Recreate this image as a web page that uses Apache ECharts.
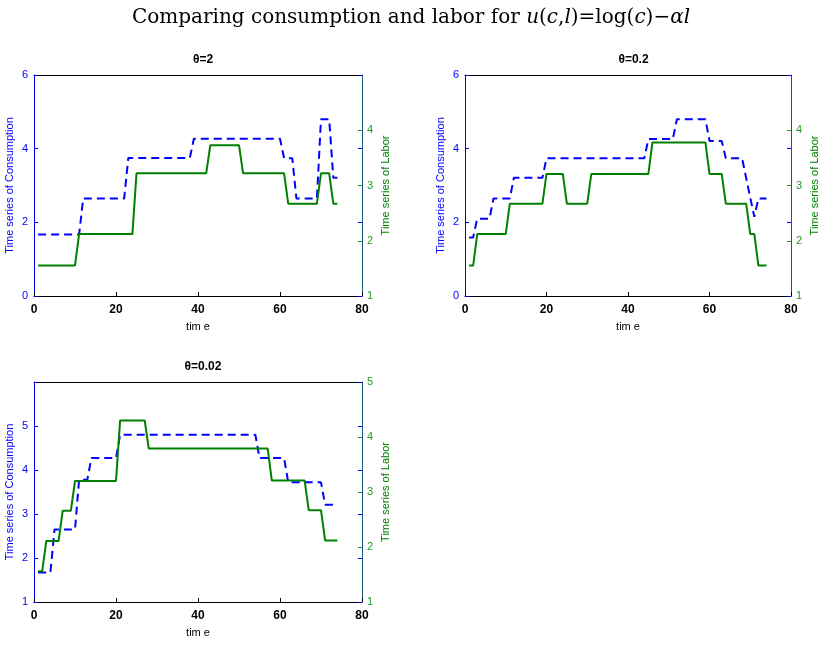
<!DOCTYPE html>
<html>
<head>
<meta charset="utf-8">
<script src="https://cdn.jsdelivr.net/npm/echarts@6/dist/echarts.min.js"></script>
<style>html,body{margin:0;padding:0;background:#fff}#c{width:821px;height:645px}</style>
</head>
<body>
<div id="c"></div>
<script>
// time index 1..74
var time = Array.from({length: 74}, function (_, i) { return i + 1; });
var xTicks = [0, 20, 40, 60, 80];
var subTitles = ['\u03b8=2', '\u03b8=0.2', '\u03b8=0.02'];

// theta = 2
var cons1 = [
1.67,1.67,1.67,1.67,1.67,1.67,1.67,1.67,1.67,1.67,1.67,
2.65,2.65,2.65,2.65,2.65,2.65,2.65,2.65,2.65,2.65,2.65,
3.75,3.75,3.75,3.75,3.75,3.75,3.75,3.75,3.75,3.75,3.75,3.75,3.75,3.75,3.75,3.75,
4.27,4.27,4.27,4.27,4.27,4.27,4.27,4.27,4.27,4.27,4.27,4.27,4.27,4.27,4.27,4.27,4.27,4.27,4.27,4.27,4.27,4.27,
3.74,3.74,3.74,
2.65,2.65,2.65,2.65,2.65,2.65,
4.80,4.80,4.80,
3.21,3.21];
var labor1 = [
1.55,1.55,1.55,1.55,1.55,1.55,1.55,1.55,1.55,1.55,
2.12,2.12,2.12,2.12,2.12,2.12,2.12,2.12,2.12,2.12,2.12,2.12,2.12,2.12,
3.22,3.22,3.22,3.22,3.22,3.22,3.22,3.22,3.22,3.22,3.22,3.22,3.22,3.22,3.22,3.22,3.22,3.22,
3.73,3.73,3.73,3.73,3.73,3.73,3.73,3.73,
3.22,3.22,3.22,3.22,3.22,3.22,3.22,3.22,3.22,3.22,3.22,
2.67,2.67,2.67,2.67,2.67,2.67,2.67,2.67,
3.22,3.22,3.22,
2.67,2.67];

// theta = 0.2
var cons2 = [
1.59,1.59,
2.10,2.10,2.10,2.10,
2.65,2.65,2.65,2.65,2.65,
3.21,3.21,3.21,3.21,3.21,3.21,3.21,3.21,
3.74,3.74,3.74,3.74,3.74,3.74,3.74,3.74,3.74,3.74,3.74,3.74,3.74,3.74,3.74,3.74,3.74,3.74,3.74,3.74,3.74,3.74,3.74,3.74,3.74,
4.26,4.26,4.26,4.26,4.26,4.26,4.26,
4.80,4.80,4.80,4.80,4.80,4.80,4.80,4.80,
4.21,4.21,4.21,4.21,
3.74,3.74,3.74,3.74,3.74,
3.20,2.67,2.15,
2.65,2.65,2.65];
var labor2 = [
1.55,1.55,
2.12,2.12,2.12,2.12,2.12,2.12,2.12,2.12,
2.67,2.67,2.67,2.67,2.67,2.67,2.67,2.67,2.67,
3.21,3.21,3.21,3.21,3.21,
2.67,2.67,2.67,2.67,2.67,2.67,
3.21,3.21,3.21,3.21,3.21,3.21,3.21,3.21,3.21,3.21,3.21,3.21,3.21,3.21,3.21,
3.78,3.78,3.78,3.78,3.78,3.78,3.78,3.78,3.78,3.78,3.78,3.78,3.78,3.78,
3.21,3.21,3.21,3.21,
2.67,2.67,2.67,2.67,2.67,2.67,
2.12,2.12,
1.55,1.55,1.55];

// theta = 0.02
var cons3 = [
1.67,1.67,1.67,1.67,
2.65,2.65,2.65,2.65,2.65,2.65,
3.78,3.78,3.78,
4.27,4.27,4.27,4.27,4.27,4.27,4.27,
4.80,4.80,4.80,4.80,4.80,4.80,4.80,4.80,4.80,4.80,4.80,4.80,4.80,4.80,4.80,4.80,4.80,4.80,4.80,4.80,4.80,4.80,4.80,4.80,4.80,4.80,4.80,4.80,4.80,4.80,4.80,4.80,4.80,4.80,
4.27,4.27,4.27,4.27,4.27,4.27,4.27,
3.72,3.72,3.72,3.72,3.72,3.72,3.72,3.72,3.72,
3.21,3.21,3.21,3.21];
var labor3 = [
1.56,1.56,
2.11,2.11,2.11,2.11,
2.66,2.66,2.66,
3.20,3.20,3.20,3.20,3.20,3.20,3.20,3.20,3.20,3.20,3.20,
4.30,4.30,4.30,4.30,4.30,4.30,4.30,
3.79,3.79,3.79,3.79,3.79,3.79,3.79,3.79,3.79,3.79,3.79,3.79,3.79,3.79,3.79,3.79,3.79,3.79,3.79,3.79,3.79,3.79,3.79,3.79,3.79,3.79,3.79,3.79,3.79,3.79,
3.21,3.21,3.21,3.21,3.21,3.21,3.21,3.21,3.21,
2.67,2.67,2.67,2.67,
2.12,2.12,2.12,2.12];

var consList = [cons1, cons2, cons3];
var laborList = [labor1, labor2, labor3];
// per-panel axis ranges
var leftRange = [[0, 6, 2], [0, 6, 2], [1, 6, 1]];
var rightRange = [[1, 5, 1], [1, 5, 1], [1, 5, 1]];
var hideLeftTop = [false, false, true];
var hideRightTop = [true, true, false];

var BLUE = '#0000ff', GREEN = '#008000', GREENLBL = '#1f9a1f', TEAL = '#1d5a78';
var FONT = 'Liberation Sans';

var grids = [
  {left: 34, top: 75, width: 328, height: 221},
  {left: 465, top: 75, width: 327, height: 221},
  {left: 34, top: 382, width: 328, height: 220}
];

var xAxes = [], yAxes = [], series = [], titles = [];
titles.push({
  text: '{a|Comparing consumption and labor for }{i|u}{a|(}{i|c}{a|,}{i|l}{a|)=log(}{i|c}{a|)\u2212}{i|\u03b1l}',
  left: 406, top: 3, textAlign: 'center',
  textStyle: {
    fontWeight: 'normal',
    rich: {
      a: {fontFamily: 'DejaVu Serif', fontSize: 20, fontWeight: 'normal', color: '#000'},
      i: {fontFamily: 'DejaVu Serif', fontSize: 20, fontWeight: 'normal', fontStyle: 'italic', color: '#000'}
    }
  }
});

grids.forEach(function (g, k) {
  titles.push({
    text: subTitles[k],
    left: g.left + g.width / 2, top: g.top - 26, textAlign: 'center',
    textStyle: {fontFamily: FONT, fontSize: 12, fontWeight: 'bold', color: '#000'}
  });
  // bottom x axis
  xAxes.push({
    type: 'value', gridIndex: k, min: xTicks[0], max: xTicks[xTicks.length - 1], interval: 20,
    position: 'bottom',
    name: 'tim e', nameLocation: 'middle', nameGap: 25,
    nameTextStyle: {fontFamily: FONT, fontSize: 11, color: '#000'},
    axisLine: {show: true, onZero: false, lineStyle: {color: '#000', width: 1}},
    axisTick: {show: true, inside: true, length: 4, lineStyle: {color: '#000'}},
    axisLabel: {fontFamily: FONT, fontSize: 12, fontWeight: 'bold', color: '#000', margin: 8},
    splitLine: {show: false}
  });
  // top x axis (box)
  xAxes.push({
    type: 'value', gridIndex: k, min: 0, max: 80, interval: 20, position: 'top',
    axisLine: {show: true, onZero: false, lineStyle: {color: '#000', width: 1}},
    axisTick: {show: false}, axisLabel: {show: false}, splitLine: {show: false}
  });
  var lr = leftRange[k], rr = rightRange[k];
  var hl = hideLeftTop[k], hr = hideRightTop[k];
  // left axis
  yAxes.push({
    type: 'value', gridIndex: k, position: 'left', min: lr[0], max: lr[1], interval: lr[2],
    name: 'Time series of Consumption', nameLocation: 'middle', nameGap: 19,
    nameTextStyle: {fontFamily: FONT, fontSize: 11, color: BLUE},
    axisLine: {show: true, onZero: false, lineStyle: {color: BLUE, width: 1}},
    axisTick: {show: true, inside: true, length: 4, lineStyle: {color: BLUE}},
    axisLabel: {fontFamily: FONT, fontSize: 11, color: BLUE, margin: 6,
      formatter: function (v) { return (hl && v === lr[1]) ? '' : String(v); }},
    splitLine: {show: false}
  });
  // right axis
  yAxes.push({
    type: 'value', gridIndex: k, position: 'right', min: rr[0], max: rr[1], interval: rr[2],
    name: 'Time series of Labor', nameLocation: 'middle', nameGap: 18, nameRotate: 90,
    nameTextStyle: {fontFamily: FONT, fontSize: 11, color: GREEN},
    axisLine: {show: true, onZero: false, lineStyle: {color: TEAL, width: 1}},
    axisTick: {show: true, inside: true, length: 4, lineStyle: {color: GREENLBL}},
    axisLabel: {fontFamily: FONT, fontSize: 11, color: GREENLBL, margin: 5,
      formatter: function (v) { return (hr && v === rr[1]) ? '' : String(v); }},
    splitLine: {show: false}
  });
  // mirrored left ticks on the right side
  yAxes.push({
    type: 'value', gridIndex: k, position: 'right', min: lr[0], max: lr[1], interval: lr[2],
    axisLine: {show: false, onZero: false},
    axisTick: {show: true, inside: true, length: 4, lineStyle: {color: BLUE}},
    axisLabel: {show: false}, splitLine: {show: false}
  });
  series.push({
    type: 'line', xAxisIndex: 2 * k, yAxisIndex: 3 * k, showSymbol: false, symbol: 'none',
    lineStyle: {color: BLUE, width: 2, type: [8, 5]}, z: 2,
    data: time.map(function (t, i) { return [t, consList[k][i]]; })
  });
  series.push({
    type: 'line', xAxisIndex: 2 * k, yAxisIndex: 3 * k + 1, showSymbol: false, symbol: 'none',
    lineStyle: {color: GREEN, width: 2}, z: 3,
    data: time.map(function (t, i) { return [t, laborList[k][i]]; })
  });
});

var chart = echarts.init(document.getElementById('c'), null, {renderer: 'canvas'});
chart.setOption({
  animation: false,
  backgroundColor: '#fff',
  title: titles,
  grid: grids,
  xAxis: xAxes,
  yAxis: yAxes,
  series: series
});
</script>
</body>
</html>
